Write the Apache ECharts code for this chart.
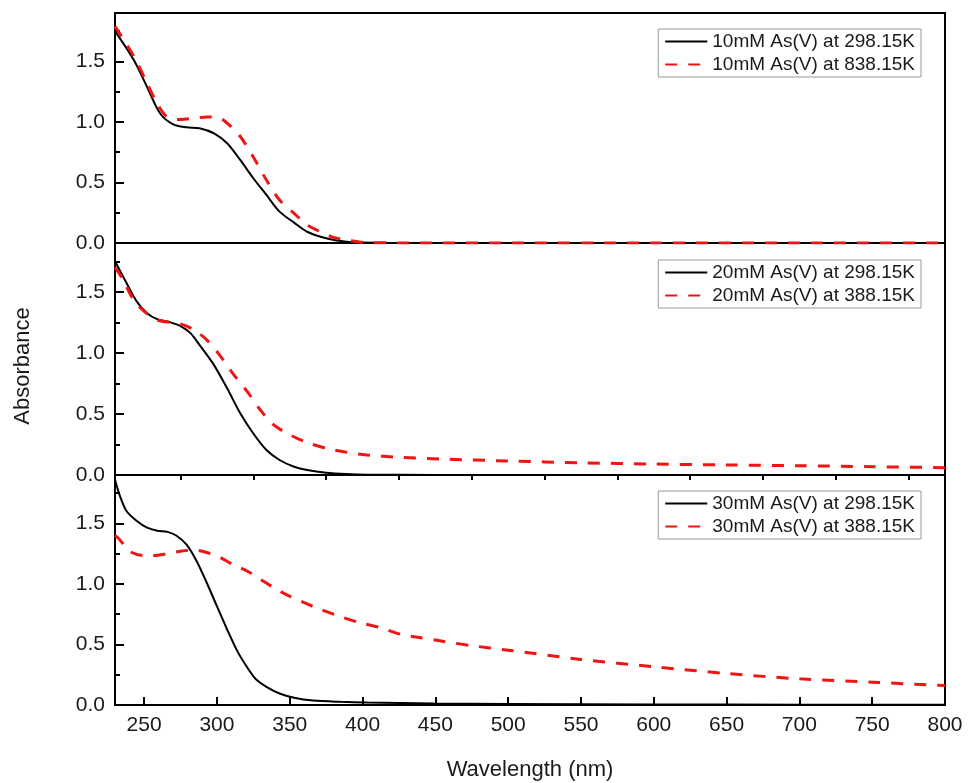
<!DOCTYPE html>
<html>
<head>
<meta charset="utf-8">
<script src="https://cdn.jsdelivr.net/npm/echarts@6/dist/echarts.min.js"></script>
<style>
html,body{margin:0;padding:0;background:#fff;}
#chart{width:969px;height:783px;}
</style>
</head>
<body>
<div id="chart"></div>
<script>
// ---- data (wavelength in nm, absorbance) ----
const xTickValues = [250, 300, 350, 400, 450, 500, 550, 600, 650, 700, 750, 800];
const xMinorTickValues = [275, 325, 375, 425, 475, 525, 575, 625, 675, 725, 775];

const names = [
  "10mM As(V) at 298.15K", "10mM As(V) at 838.15K",
  "20mM As(V) at 298.15K", "20mM As(V) at 388.15K",
  "30mM As(V) at 298.15K", "30mM As(V) at 388.15K"
];

const wl10a = [230, 243, 252, 261, 270, 279, 288, 298, 307, 316, 325, 334, 343, 353, 362, 375, 389, 400, 420, 450, 500, 600, 700, 800];
const ab10a = [1.75, 1.51, 1.29, 1.07, 0.98, 0.956, 0.948, 0.906, 0.824, 0.686, 0.535, 0.397, 0.259, 0.168, 0.093, 0.039, 0.01, 0.004, 0.001, 0, 0, 0, 0, 0];

const wl10b = [230, 243, 252, 259, 266, 275, 284, 293, 300, 307, 316, 325, 334, 343, 353, 362, 371, 380, 389, 401, 420, 450, 500, 600, 700, 800];
const ab10b = [1.79, 1.54, 1.32, 1.15, 1.04, 1.02, 1.03, 1.04, 1.04, 0.99, 0.88, 0.71, 0.52, 0.355, 0.245, 0.149, 0.093, 0.047, 0.025, 0.005, 0.001, 0, 0, 0, 0, 0];

const wl20a = [230, 238, 245, 252, 259, 266, 275, 282, 288, 298, 307, 316, 325, 334, 343, 353, 362, 375, 389, 403, 450, 500, 600, 700, 800];
const ab20a = [1.75, 1.57, 1.42, 1.325, 1.276, 1.257, 1.22, 1.16, 1.066, 0.90, 0.71, 0.506, 0.34, 0.205, 0.123, 0.068, 0.041, 0.019, 0.008, 0.003, 0.001, 0, 0, 0, 0];

const wl20b = [230, 235, 243, 250, 259, 268, 277, 284, 293, 302, 311, 321, 330, 339, 350, 362, 380, 403, 426, 455, 500, 550, 600, 650, 700, 750, 800];
const ab20b = [1.70, 1.61, 1.43, 1.34, 1.27, 1.25, 1.23, 1.19, 1.107, 0.98, 0.83, 0.68, 0.53, 0.41, 0.33, 0.265, 0.205, 0.164, 0.145, 0.13, 0.115, 0.10, 0.09, 0.082, 0.076, 0.068, 0.06];

const wl30a = [230, 233, 238, 245, 252, 259, 266, 272, 279, 286, 293, 300, 307, 314, 321, 327, 334, 343, 353, 366, 385, 403, 449, 500, 600, 700, 800];
const ab30a = [1.86, 1.74, 1.60, 1.52, 1.465, 1.44, 1.43, 1.40, 1.326, 1.19, 1.01, 0.816, 0.624, 0.445, 0.307, 0.21, 0.15, 0.095, 0.06, 0.037, 0.026, 0.02, 0.012, 0.008, 0.005, 0.003, 0.002];

const wl30b = [230, 233, 240, 250, 256, 266, 275, 284, 293, 302, 311, 321, 330, 339, 348, 357, 371, 385, 398, 412, 426, 440, 456, 475, 500, 550, 600, 650, 700, 750, 800];
const ab30b = [1.40, 1.37, 1.27, 1.235, 1.235, 1.25, 1.27, 1.28, 1.26, 1.22, 1.16, 1.105, 1.037, 0.97, 0.91, 0.86, 0.79, 0.73, 0.68, 0.64, 0.585, 0.555, 0.525, 0.49, 0.453, 0.376, 0.316, 0.26, 0.216, 0.188, 0.161];

const seriesX = [wl10a, wl10b, wl20a, wl20b, wl30a, wl30b];
const seriesY = [ab10a, ab10b, ab20a, ab20b, ab30a, ab30b];

// ---- chart ----
const FONT = "'Liberation Sans', Arial, sans-serif";
const BLACK = "#000";
const RED = "#f01414";

const gridTops = [13, 243, 475];
const gridHeights = [230, 232, 230];
const legendTops = [29, 260, 491];

const grids = gridTops.map((t, i) => ({
  left: 115, right: 24, top: t, height: gridHeights[i],
  show: true, borderColor: '#000', borderWidth: 2, backgroundColor: 'transparent',
  containLabel: false, outerBoundsMode: 'none'
}));

const xAxes = [0, 1].map(i => ({
  type: 'value', gridIndex: i, min: 230, max: 800, show: false
}));
xAxes.push({
  type: 'value', gridIndex: 2, min: 230, max: 800,
  axisLine: { show: true, lineStyle: { color: BLACK, width: 2 } },
  axisTick: { show: true, inside: true, length: 8, customValues: xTickValues, lineStyle: { color: BLACK, width: 2 } },
  axisLabel: { show: true, customValues: xTickValues, fontSize: 21, color: '#1a1a1a', fontFamily: FONT, margin: 10 },
  splitLine: { show: false },
  name: 'Wavelength (nm)', nameLocation: 'middle', nameGap: 54,
  nameTextStyle: { fontSize: 22, color: '#1a1a1a', fontFamily: FONT }
});
xAxes.push({
  type: 'value', gridIndex: 2, min: 230, max: 800,
  axisLine: { show: false },
  axisTick: { show: true, inside: true, length: 5, customValues: xMinorTickValues, lineStyle: { color: BLACK, width: 2 } },
  axisLabel: { show: false },
  splitLine: { show: false }
});

const yAxes = [0, 1, 2].map(i => ({
  type: 'value', gridIndex: i, min: 0, max: 1.9, interval: 0.5,
  axisLine: { show: true, lineStyle: { color: BLACK, width: 2 } },
  axisTick: { show: true, inside: true, length: 9, lineStyle: { color: BLACK, width: 2 } },
  minorTick: { show: true, splitNumber: 2, length: 5, lineStyle: { color: BLACK, width: 2 } },
  axisLabel: {
    fontSize: 21, color: '#1a1a1a', fontFamily: FONT, margin: 10,
    showMaxLabel: false,
    formatter: v => v.toFixed(1)
  },
  splitLine: { show: false }
}));

const series = names.map((n, i) => {
  const panel = Math.floor(i / 2);
  const isRed = i % 2 === 1;
  return {
    name: n, type: 'line',
    xAxisIndex: panel, yAxisIndex: panel,
    data: seriesX[i].map((x, k) => [x, seriesY[i][k]]),
    symbol: 'none', showSymbol: false,
    smooth: 0.3,
    lineStyle: isRed ? { color: RED, width: 3, type: [12, 11] } : { color: BLACK, width: 2 },
    itemStyle: { color: isRed ? RED : BLACK },
    z: isRed ? 3 : 2
  };
});

const legends = [0, 1, 2].map(p => ({
  data: [names[2 * p], names[2 * p + 1]],
  orient: 'vertical', right: 48, top: legendTops[p],
  borderColor: '#9a9a9a', borderWidth: 1,
  padding: [3, 6, 3, 6], itemGap: 4,
  itemWidth: 42, itemHeight: 20,
  itemStyle: { opacity: 0, borderWidth: 0 },
  textStyle: { fontSize: 19, color: '#1a1a1a', fontFamily: FONT },
  selectedMode: false
}));

const chart = echarts.init(document.getElementById('chart'), null, { renderer: 'canvas' });
chart.setOption({
  backgroundColor: '#fff',
  animation: false,
  grid: grids,
  xAxis: xAxes,
  yAxis: yAxes,
  legend: legends,
  series: series,
  graphic: [{
    type: 'text', x: 23, y: 366, rotation: Math.PI / 2,
    style: { text: 'Absorbance', fontSize: 22, fill: '#1a1a1a', fontFamily: FONT, align: 'center', verticalAlign: 'middle' }
  }]
});
</script>
</body>
</html>
